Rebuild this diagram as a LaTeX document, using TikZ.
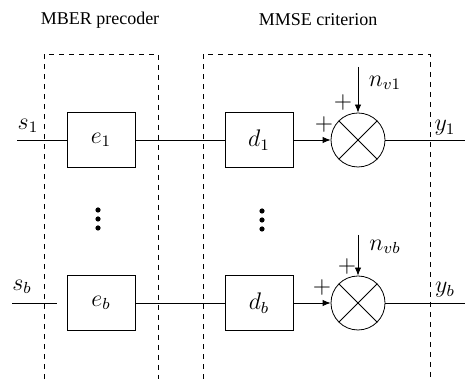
\documentclass[tikz,border=0pt]{standalone}
\usepackage{amsmath,amssymb}
\usepackage{fontspec}
\setmainfont{Liberation Serif}
\usetikzlibrary{arrows.meta,positioning,calc}

\begin{document}
\begin{tikzpicture}[x=0.5pt, y=0.5pt, every node/.style={font=\large},
  blk/.style={draw, rectangle, minimum width=34pt, minimum height=27.5pt, inner sep=0pt},
  mixer/.style={draw, circle, minimum size=27pt, inner sep=0pt},
  frame/.style={dash pattern=on 2.5pt off 2.5pt},
  sig/.style={-{Latex[length=4pt,width=3.2pt]}}]
  \useasboundingbox (0,0) rectangle (465,379);

  % dashed frames
  \draw[frame] (44,0) -- (44,325) -- (158,325) -- (158,0);
  \draw[frame] (203,0) -- (203,325) -- (430,325) -- (430,0);
  \node[font=\small] (tprec) at (100,359) {MBER precoder};
  \node[font=\small] (tmmse) at (318,359) {MMSE criterion};

  % first branch
  \coordinate (in1) at (17,239);
  \coordinate (out1) at (465,239);
  \node[blk] (e1) at (101,239) {$e_1$};
  \node[blk] (d1) at (259,239) {$d_1$};
  \node[mixer] (m1) at (358,239) {};
  \draw (m1.north west) -- (m1.south east) (m1.north east) -- (m1.south west);
  \coordinate (nv1) at (358,312);
  \draw (in1) -- (e1) -- (d1);
  \draw[sig] (d1) -- (m1);
  \draw[sig] (nv1) -- (m1.north);
  \draw (m1) -- (out1);
  \node (s1) at (28,253) {$s_1$};
  \node (y1) at (445,251) {$y_1$};
  \node (lnv1) at (385,296) {$n_{v1}$};
  \node (pa1) at (343,276) {$+$};
  \node (pb1) at (324,254) {$+$};

  % dots
  \foreach \dy in {0,9,18} {
    \fill (98,169-\dy) circle (1.3pt);
    \fill (262,168-\dy) circle (1.3pt);
  }

  % last branch
  \coordinate (inb) at (12,76);
  \coordinate (outb) at (465,76);
  \node[blk] (eb) at (101,76) {$e_b$};
  \node[blk] (db) at (259,76) {$d_b$};
  \node[mixer] (mb) at (358,76) {};
  \draw (mb.north west) -- (mb.south east) (mb.north east) -- (mb.south west);
  \coordinate (nvb) at (358,144);
  \draw[shorten >=5pt] (inb) -- (eb);
  \draw (eb) -- (db);
  \draw[sig] (db) -- (mb);
  \draw[sig] (nvb) -- (mb.north);
  \draw (mb) -- (outb);
  \node (sb) at (22,92) {$s_b$};
  \node (yb) at (445,89) {$y_b$};
  \node (lnvb) at (385,132) {$n_{vb}$};
  \node (pab) at (347,112) {$+$};
  \node (pbb) at (322,91) {$+$};
\end{tikzpicture}
\end{document}
